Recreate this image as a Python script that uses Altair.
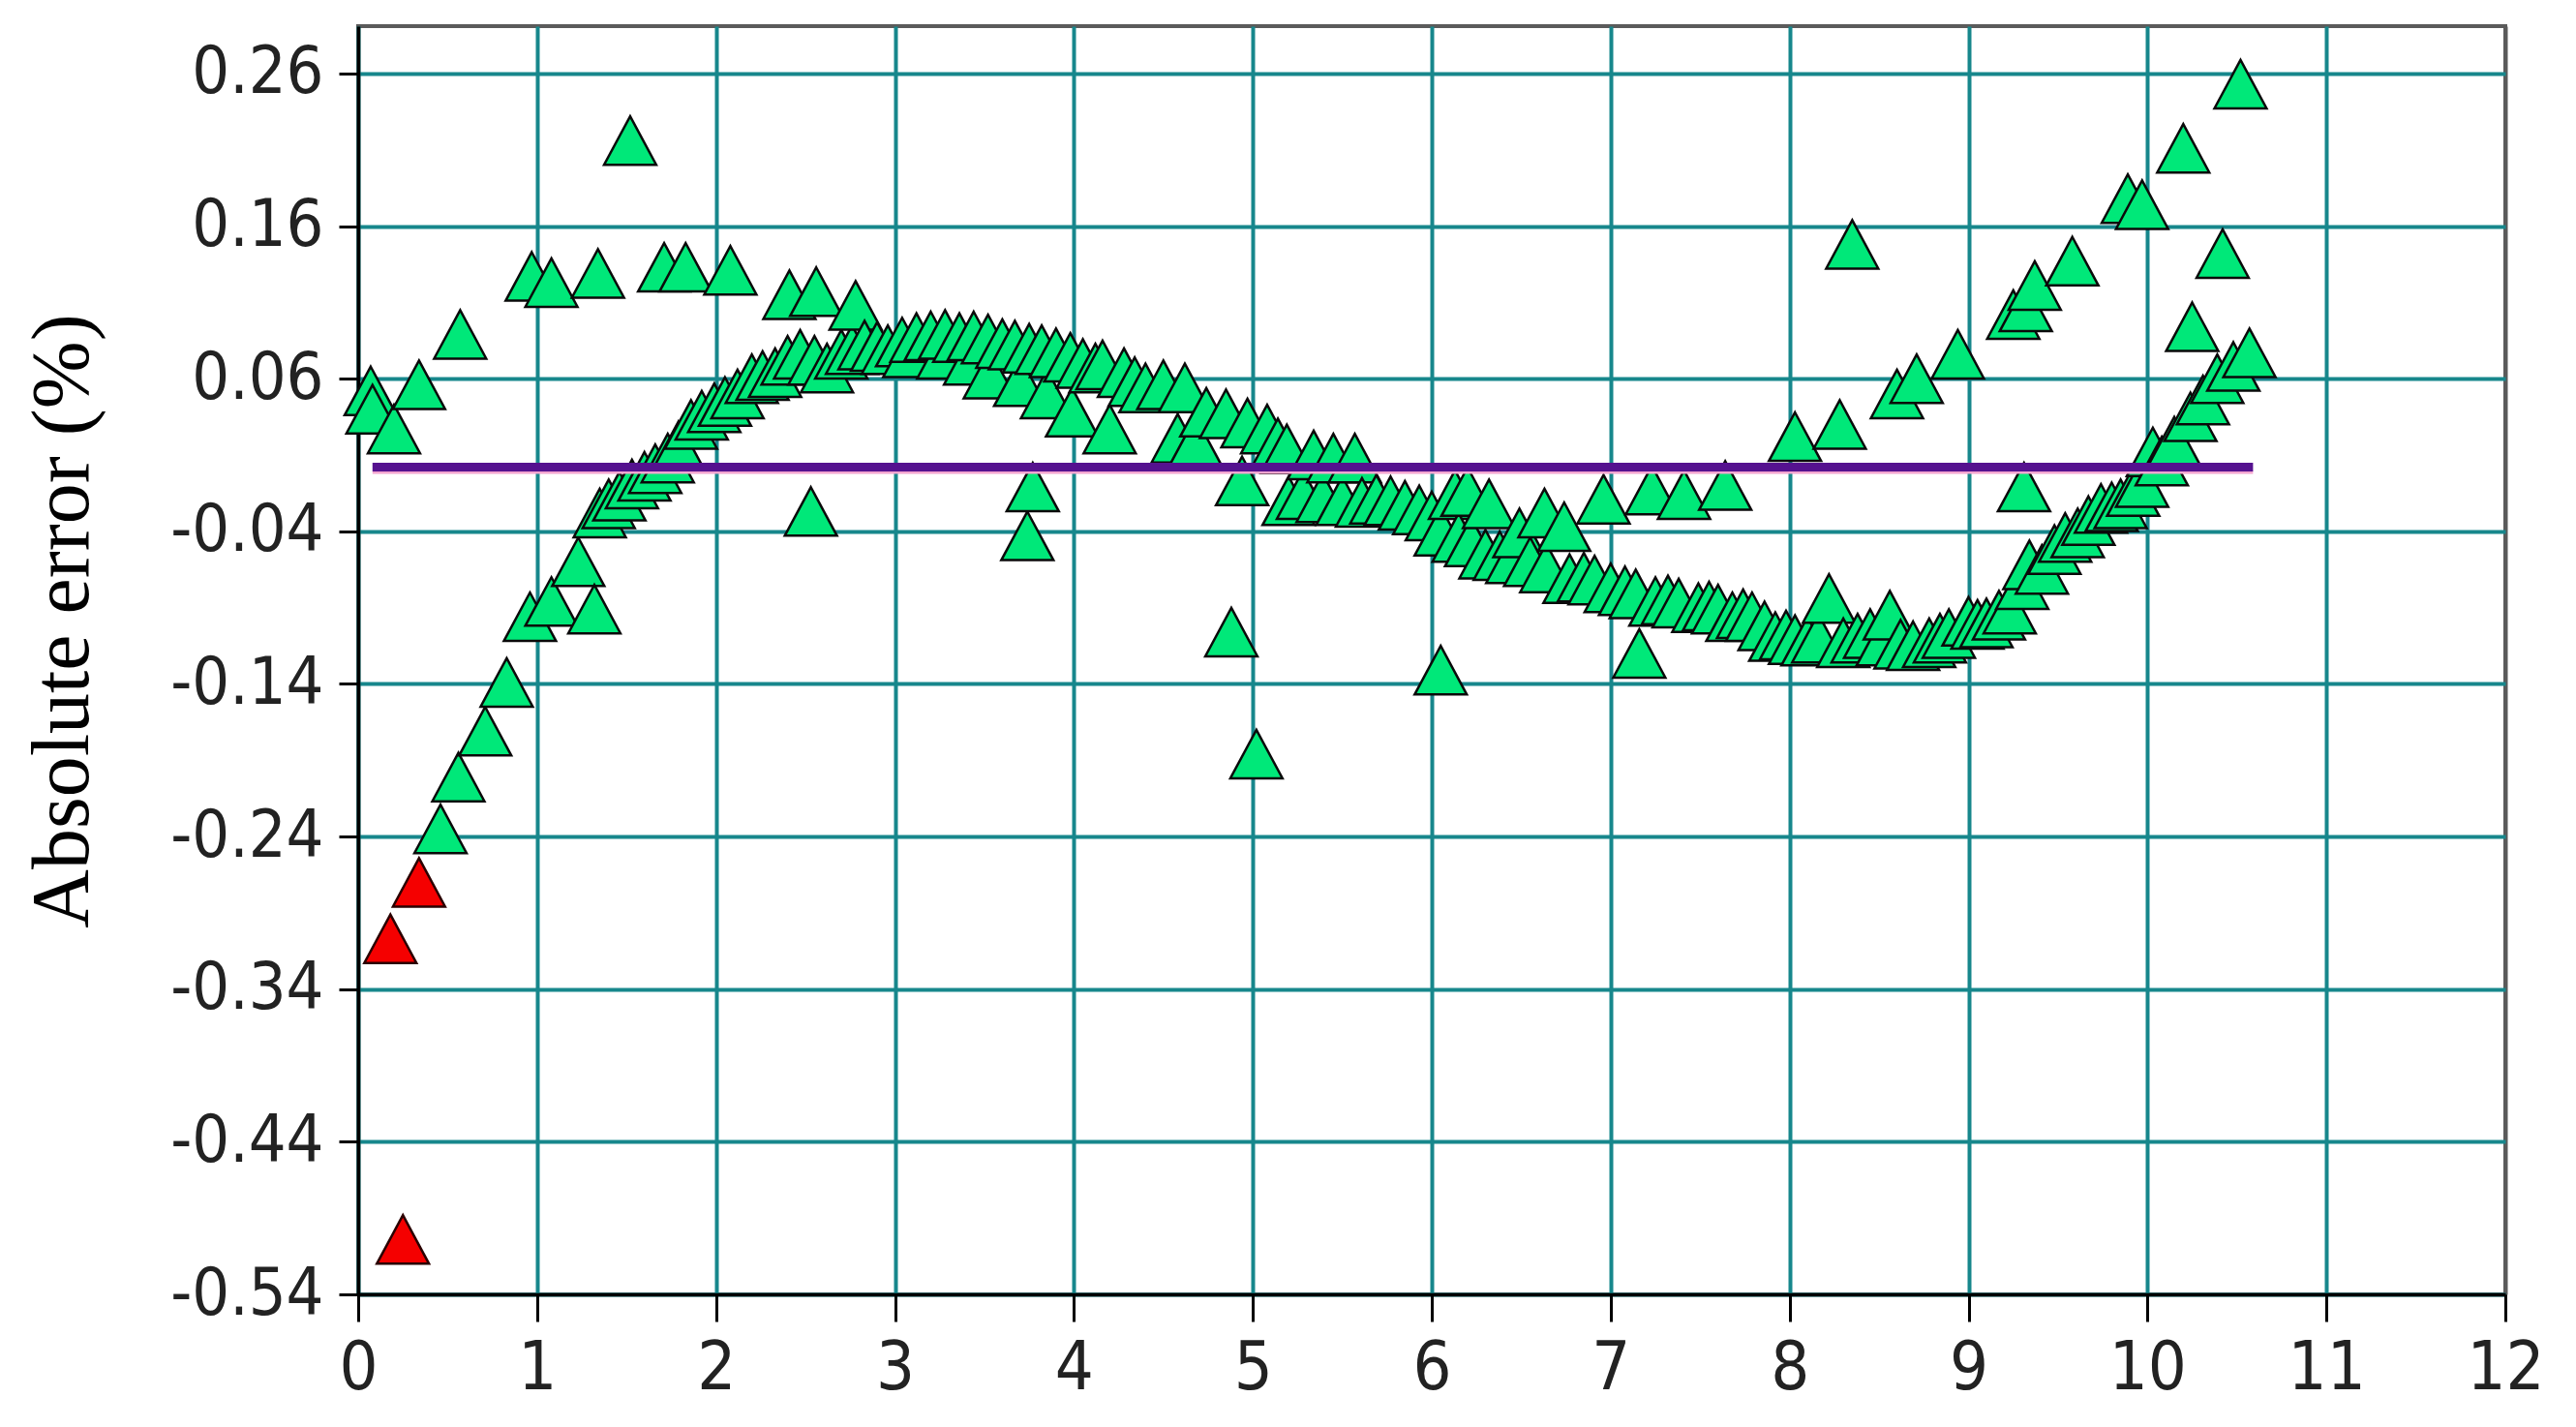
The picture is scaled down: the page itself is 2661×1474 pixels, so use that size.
import altair as alt
import pandas as pd

# ---------------- data ----------------
green_x = [0.07, 0.08, 0.20, 0.34, 0.46, 0.56, 0.57, 0.71, 0.83, 0.96, 0.97, 1.08, 1.08, 1.23, 1.32,
           1.34, 1.35, 1.40, 1.46, 1.52, 1.53, 1.60, 1.66, 1.71, 1.73, 1.79, 1.83, 1.86, 1.92, 1.99,
           2.05, 2.08, 2.12, 2.20, 2.26, 2.33, 2.40, 2.41, 2.47, 2.53, 2.55, 2.56, 2.62, 2.70, 2.76,
           2.78, 2.83, 2.90, 2.96, 3.04, 3.08, 3.12, 3.20, 3.27, 3.28, 3.36, 3.42, 3.44, 3.52, 3.53,
           3.60, 3.67, 3.70, 3.74, 3.75, 3.77, 3.82, 3.85, 3.90, 3.98, 3.99, 4.05, 4.12, 4.16, 4.20,
           4.28, 4.34, 4.40, 4.50, 4.58, 4.62, 4.68, 4.74, 4.85, 4.88, 4.94, 4.97, 5.02, 5.08, 5.14,
           5.19, 5.20, 5.28, 5.34, 5.39, 5.45, 5.50, 5.57, 5.61, 5.69, 5.77, 5.85, 5.93, 6.00, 6.05,
           6.05, 6.13, 6.15, 6.22, 6.20, 6.30, 6.32, 6.38, 6.45, 6.49, 6.55, 6.63, 6.64, 6.74, 6.77,
           6.85, 6.91, 6.96, 7.00, 7.08, 7.14, 7.16, 7.23, 7.25, 7.32, 7.38, 7.41, 7.49, 7.55, 7.60,
           7.64, 7.68, 7.74, 7.79, 7.86, 7.92, 7.98, 8.03, 8.03, 8.10, 8.16, 8.22, 8.28, 8.30, 8.35,
           8.38, 8.45, 8.52, 8.56, 8.60, 8.62, 8.69, 8.71, 8.78, 8.84, 8.89, 8.94, 9.00, 9.05, 9.10,
           9.17, 9.23, 9.25, 9.30, 9.31, 9.32, 9.34, 9.37, 9.41, 9.48, 9.54, 9.58, 9.61, 9.67, 9.74,
           9.80, 9.85, 9.89, 9.92, 9.97, 9.97, 10.03, 10.08, 10.15, 10.20, 10.24, 10.25, 10.31, 10.39,
           10.42, 10.48, 10.52, 10.57]
green_y = [0.052, 0.040, 0.027, 0.056, -0.235, -0.201, 0.089, -0.171, -0.139, -0.096, 0.127, -0.086, 0.123, -0.060, -0.091,
           0.129, -0.028, -0.022, -0.017, 0.216, -0.009, -0.004, 0.001, 0.133, 0.008, 0.016, 0.133, 0.030, 0.036, 0.041,
           0.045, 0.131, 0.050, 0.060, 0.062, 0.064, 0.072, 0.115, 0.076, -0.027, 0.072, 0.117, 0.067, 0.076, 0.079,
           0.108, 0.082, 0.081, 0.079, 0.084, 0.077, 0.087, 0.088, 0.076, 0.089, 0.087, 0.072, 0.088, 0.086, 0.063,
           0.083, 0.082, 0.058, -0.043, 0.080, -0.011, 0.079, 0.050, 0.077, 0.074, 0.038, 0.070, 0.067, 0.069, 0.027,
           0.064, 0.058, 0.054, 0.056, 0.021, 0.054, 0.019, 0.038, 0.037, -0.106, -0.007, 0.031, -0.186, 0.027, 0.018,
           0.014, -0.020, -0.016, 0.010, -0.018, 0.008, -0.020, 0.008, -0.021, -0.019, -0.020, -0.023, -0.026, -0.030, -0.040,
           -0.131, -0.016, -0.044, -0.047, -0.014, -0.055, -0.022, -0.056, -0.058, -0.041, -0.060, -0.028, -0.064, -0.037, -0.071,
           -0.070, -0.072, -0.019, -0.077, -0.079, -0.081, -0.120, -0.013, -0.086, -0.085, -0.087, -0.016, -0.090, -0.089, -0.091,
           -0.010, -0.096, -0.094, -0.096, -0.102, -0.109, -0.108, -0.111, 0.022, -0.112, -0.110, -0.084, 0.030, -0.113, 0.148,
           -0.110, -0.107, -0.112, -0.095, 0.050, -0.114, -0.115, 0.060, -0.113, -0.110, -0.107, 0.076, -0.099, -0.101, -0.100,
           -0.095, -0.091, 0.102, -0.075, -0.011, 0.107, -0.062, 0.121, -0.065, -0.052, -0.044, 0.137, -0.041, -0.033, -0.025,
           -0.024, -0.022, 0.178, -0.014, -0.008, 0.174, 0.012, 0.006, 0.019, 0.211, 0.035, 0.094, 0.046, 0.060,
           0.142, 0.068, 0.253, 0.077]

red_x = [0.18, 0.25, 0.34]
red_y = [-0.307, -0.504, -0.270]

line_x = [0.08, 10.59]
line_y = [0.002]

x_ticks = [0, 1, 2, 3, 4, 5, 6, 7, 8, 9, 10, 11, 12]
y_ticks = [-0.54, -0.44, -0.34, -0.24, -0.14, -0.04, 0.06, 0.16, 0.26]
x_domain = [0, 12]
y_domain = [-0.54, 0.291]
y_title = "Absolute error (%)"

# ---------------- tables ----------------
df_g = pd.DataFrame({"x": green_x, "y": green_y})
df_r = pd.DataFrame({"x": red_x, "y": red_y})
df_l = pd.DataFrame({"x": [line_x[0]], "x2": [line_x[1]], "y": line_y})

LABEL_FONT = "'Liberation Sans Narrow', 'Arial Narrow', 'DejaVu Sans Condensed', sans-serif"
GRID = "#17878C"
TRI = "M0,-0.93L1,0.93L-1,0.93Z"

xscale = alt.Scale(domain=x_domain, nice=False, zero=False)
yscale = alt.Scale(domain=y_domain, nice=False, zero=False)

xaxis = alt.Axis(
    values=x_ticks, title=None, grid=True, format="d",
    gridColor={"condition": {"test": "datum.value === 12", "value": "#5b5b5b"}, "value": GRID},
    gridWidth={"condition": {"test": "datum.value === 12", "value": 4}, "value": 4},
    gridOpacity=1,
    domainColor="black", domainWidth=3.5,
    tickColor="black", tickWidth=3, tickSize=28,
    labelFont=LABEL_FONT, labelFontSize=70, labelColor="#222222",
    labelPadding=14, labelFlush=False, labelOverlap=False,
)
yaxis = alt.Axis(
    values=y_ticks, grid=True, gridColor=GRID, gridWidth=4, gridOpacity=1,
    domainColor="black", domainWidth=3.5,
    tickColor="black", tickWidth=3, tickSize=20,
    labelFont=LABEL_FONT, labelFontSize=68, labelColor="#222222",
    labelPadding=16, labelFlush=False, labelOverlap=False,
    labelExpr="replace(format(datum.value, '.2f'), '\u2212', '-')",
    title=y_title, titleFont="Liberation Serif", titleFontSize=84, titleFontWeight="normal",
    titleColor="black", titleAngle=-90, titleX=-305, titleY=614,
    titleAlign="center", titleBaseline="middle",
)

green = alt.Chart(df_g).mark_point(
    shape=TRI, size=2900, filled=True, fill="#00E879", fillOpacity=1,
    stroke="#0a0a0a", strokeWidth=2.5, opacity=1,
).encode(
    x=alt.X("x:Q", scale=xscale, axis=xaxis),
    y=alt.Y("y:Q", scale=yscale, axis=yaxis),
)

red = alt.Chart(df_r).mark_point(
    shape=TRI, size=2900, filled=True, fill="#F50000", fillOpacity=1,
    stroke="#2a0000", strokeWidth=2.5, opacity=1,
).encode(
    x=alt.X("x:Q", scale=xscale),
    y=alt.Y("y:Q", scale=yscale),
)

pink = alt.Chart(df_l).mark_rule(color="#F3A5D0", strokeWidth=3, yOffset=5.5).encode(
    x=alt.X("x:Q", scale=xscale), x2="x2:Q", y=alt.Y("y:Q", scale=yscale)
)
line = alt.Chart(df_l).mark_rule(color="#55128F", strokeWidth=9).encode(
    x=alt.X("x:Q", scale=xscale), x2="x2:Q", y=alt.Y("y:Q", scale=yscale)
)

chart = alt.layer(green, red, pink, line).properties(
    width=2218, height=1310,
    autosize=alt.AutoSizeParams(type="none"),
    padding={"left": 362, "top": 19, "right": 60, "bottom": 120},
    background="white",
).configure_view(
    stroke="#5b5b5b", strokeWidth=4, fill="white",
)

chart.save("out.html", embed_options={"renderer": "svg", "actions": False})
